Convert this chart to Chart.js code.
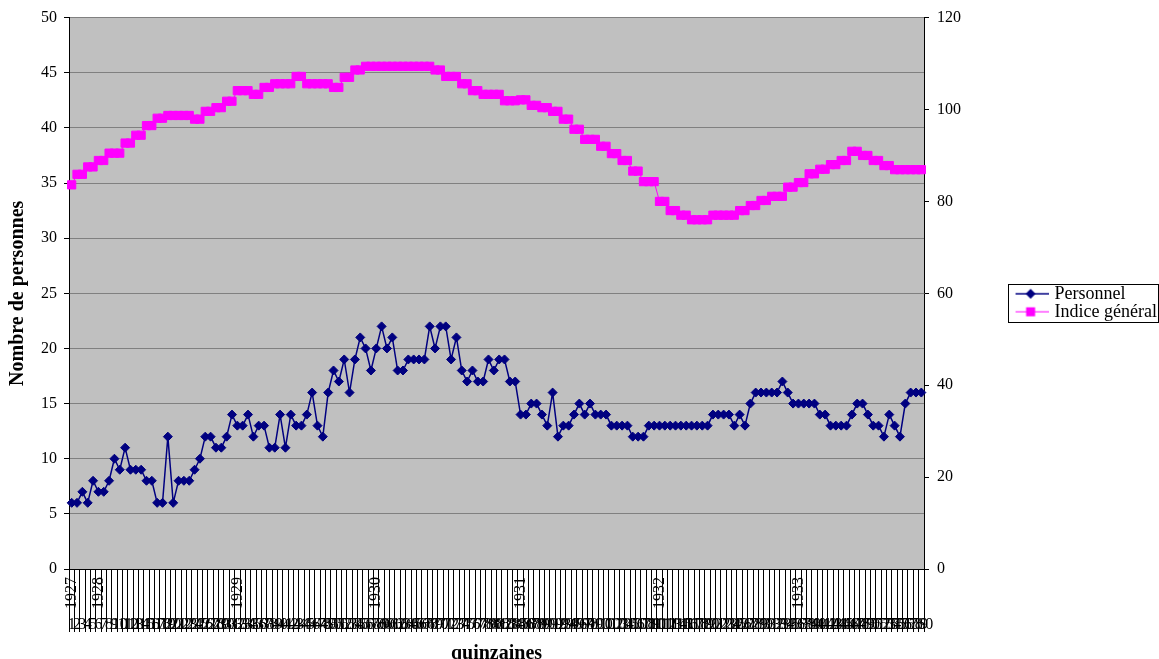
<!DOCTYPE html>
<html>
<head>
<meta charset="utf-8">
<script src="https://cdn.jsdelivr.net/npm/chart.js@4.4.1/dist/chart.umd.min.js"></script>
<style>
  html, body { margin: 0; padding: 0; background: #fff; }
  #wrap { width: 1159px; height: 659px; }
</style>
</head>
<body>
<div id="wrap"><canvas id="chart" width="1159" height="659"></canvas></div>
<script>
// --- DATA ---
// année affichée sur l'axe + quinzaine où elle commence
const yearLabels = ['1927', '1928', '1929', '1930', '1931', '1932', '1933'];
const yearStart = [0, 5, 31, 57, 84, 110, 136];

// Personnel (axe gauche)
const personnel = [
    6, 6, 7, 6, 8, 7, 7, 8, 10, 9,
    11, 9, 9, 9, 8, 8, 6, 6, 12, 6,
    8, 8, 8, 9, 10, 12, 12, 11, 11, 12,
    14, 13, 13, 14, 12, 13, 13, 11, 11, 14,
    11, 14, 13, 13, 14, 16, 13, 12, 16, 18,
    17, 19, 16, 19, 21, 20, 18, 20, 22, 20,
    21, 18, 18, 19, 19, 19, 19, 22, 20, 22,
    22, 19, 21, 18, 17, 18, 17, 17, 19, 18,
    19, 19, 17, 17, 14, 14, 15, 15, 14, 13,
    16, 12, 13, 13, 14, 15, 14, 15, 14, 14,
    14, 13, 13, 13, 13, 12, 12, 12, 13, 13,
    13, 13, 13, 13, 13, 13, 13, 13, 13, 13,
    14, 14, 14, 14, 13, 14, 13, 15, 16, 16,
    16, 16, 16, 17, 16, 15, 15, 15, 15, 15,
    14, 14, 13, 13, 13, 13, 14, 15, 15, 14,
    13, 13, 12, 14, 13, 12, 15, 16, 16, 16
];

// Indice général (axe droit)
const indice = [
    83.6, 85.9, 85.9, 87.5, 87.5, 88.9, 88.9, 90.5, 90.5, 90.5,
    92.7, 92.7, 94.4, 94.4, 96.5, 96.5, 98.1, 98.1, 98.7, 98.7,
    98.7, 98.7, 98.7, 97.9, 97.9, 99.6, 99.6, 100.4, 100.4, 101.8,
    101.8, 104.1, 104.1, 104.1, 103.3, 103.3, 104.8, 104.8, 105.6, 105.6,
    105.6, 105.6, 107.2, 107.2, 105.6, 105.6, 105.6, 105.6, 105.6, 104.8,
    104.8, 107.0, 107.0, 108.6, 108.6, 109.4, 109.4, 109.4, 109.4, 109.4,
    109.4, 109.4, 109.4, 109.4, 109.4, 109.4, 109.4, 109.4, 108.6, 108.6,
    107.2, 107.2, 107.2, 105.6, 105.6, 104.1, 104.1, 103.3, 103.3, 103.3,
    103.3, 101.9, 101.9, 101.9, 102.1, 102.1, 100.9, 100.9, 100.4, 100.4,
    99.6, 99.6, 97.9, 97.9, 95.7, 95.7, 93.5, 93.5, 93.5, 92.0,
    92.0, 90.4, 90.4, 88.9, 88.9, 86.6, 86.6, 84.3, 84.3, 84.3,
    80.0, 80.0, 78.0, 78.0, 77.0, 77.0, 76.0, 76.0, 76.0, 76.0,
    77.0, 77.0, 77.0, 77.0, 77.0, 78.0, 78.0, 79.1, 79.1, 80.2,
    80.2, 81.1, 81.1, 81.1, 83.1, 83.1, 84.1, 84.1, 86.0, 86.0,
    87.0, 87.0, 88.0, 88.0, 88.9, 88.9, 90.9, 90.9, 90.0, 90.0,
    88.9, 88.9, 87.8, 87.8, 86.9, 86.9, 86.9, 86.9, 86.9, 86.9
];

const seriesNames = ['Personnel', 'Indice général'];

// numéros de quinzaine 1..n, et étiquettes d'années sur le second niveau
const quinzaines = personnel.map((v, i) => String(i + 1));
const yearTicks = quinzaines.map(() => '');
yearStart.forEach((pos, k) => { yearTicks[pos] = yearLabels[k]; });

const FONT = 'Liberation Serif, Times New Roman, serif';
const NAVY = '#000080';
const PINK = '#FF00FF';

// mise en page : bord droit de la zone de tracé, légende collée au bord du canevas
const PLOT_RIGHT = 924;
const LEG_SIZE = 18;
const LEG_BOX = 30;
const OVERHANG = 8;   // la légende déborde un peu à droite, comme dans Excel
const measureCtx = document.createElement('canvas').getContext('2d');
measureCtx.font = LEG_SIZE + 'px ' + FONT;
const legTextW = Math.max(...seriesNames.map(t => measureCtx.measureText(t).width));
const legWidth = LEG_BOX + LEG_SIZE / 2 + legTextW + 10;
const rightAxisWidth = 1159 + OVERHANG - legWidth - PLOT_RIGHT;

// petite icône "ligne + marqueur" pour la légende
function legendIcon(color, style) {
    const c = document.createElement('canvas');
    c.width = 36; c.height = 14;
    const g = c.getContext('2d');
    g.strokeStyle = color;
    g.lineWidth = style === 'rectRot' ? 1.5 : 1;
    g.beginPath(); g.moveTo(0, 7); g.lineTo(36, 7); g.stroke();
    g.fillStyle = color;
    g.beginPath();
    if (style === 'rectRot') {
        g.moveTo(13, 7); g.lineTo(18, 2); g.lineTo(23, 7); g.lineTo(18, 12);
    } else {
        g.rect(13.5, 2.5, 9, 9);
    }
    g.closePath(); g.fill();
    return c;
}
const icons = [legendIcon(NAVY, 'rectRot'), legendIcon(PINK, 'rect')];

const plotBackground = {
    id: 'plotBackground',
    beforeDraw(chart) {
        const { ctx, chartArea: a } = chart;
        ctx.save();
        ctx.fillStyle = '#fff';
        ctx.fillRect(0, 0, chart.width, chart.height);
        ctx.fillStyle = '#C0C0C0';
        ctx.fillRect(a.left, a.top, a.right - a.left, a.bottom - a.top);
        ctx.restore();
    }
};

const legendFrame = {
    id: 'legendFrame',
    afterDraw(chart) {
        const lg = chart.legend;
        if (!lg || !lg.legendHitBoxes.length) return;
        const hb = lg.legendHitBoxes;
        const left = Math.round(hb[0].left - 8);
        const top = Math.round(hb[0].top - 1);
        const last = hb[hb.length - 1];
        const bottom = Math.round(last.top + last.height + 1);
        const ctx = chart.ctx;
        ctx.save();
        ctx.strokeStyle = '#000';
        ctx.lineWidth = 1;
        ctx.strokeRect(left + 0.5, top + 0.5, chart.width - left - 1, bottom - top);
        ctx.restore();
    }
};

new Chart(document.getElementById('chart'), {
    type: 'line',
    data: {
        labels: quinzaines,
        datasets: [
            {
                label: seriesNames[0],
                data: personnel,
                yAxisID: 'y',
                borderColor: NAVY,
                backgroundColor: NAVY,
                borderWidth: 1.5,
                pointStyle: 'rectRot',
                pointRadius: 4.5,
                pointBorderWidth: 1,
                tension: 0
            },
            {
                label: seriesNames[1],
                data: indice,
                yAxisID: 'y1',
                borderColor: PINK,
                backgroundColor: PINK,
                borderWidth: 1,
                pointStyle: 'rect',
                pointRadius: 5.8,
                pointBorderWidth: 1,
                tension: 0
            }
        ]
    },
    options: {
        responsive: false,
        animation: false,
        devicePixelRatio: 1,
        events: [],
        layout: { padding: { top: 17, left: 0, right: -OVERHANG, bottom: 0 } },
        plugins: {
            tooltip: { enabled: false },
            legend: {
                position: 'right',
                fullSize: false,
                title: { display: true, text: '', padding: 0, font: { size: 19, lineHeight: 1 } },
                labels: {
                    color: '#000',
                    font: { family: FONT, size: LEG_SIZE },
                    usePointStyle: true,
                    pointStyleWidth: LEG_BOX,
                    padding: 0,
                    generateLabels(chart) {
                        const items = Chart.defaults.plugins.legend.labels.generateLabels(chart);
                        items.forEach((it, i) => { it.pointStyle = icons[i]; });
                        return items;
                    }
                }
            }
        },
        scales: {
            x: {
                position: 'bottom',
                weight: 1,
                offset: true,
                grid: { display: false },
                border: { display: false },
                ticks: {
                    autoSkip: false, minRotation: 0, maxRotation: 0, padding: -2,
                    color: '#000', font: { family: FONT, size: 16 }
                },
                title: {
                    display: true, text: 'quinzaines', color: '#000', padding: { top: 0, bottom: -5 },
                    font: { family: FONT, size: 20, weight: 'bold', lineHeight: 1 }
                },
                afterFit(s) { s.height = 50; }
            },
            xYear: {
                type: 'category',
                labels: yearTicks,
                position: 'bottom',
                weight: 0,
                offset: true,
                grid: { offset: true, drawOnChartArea: false, tickLength: 63, color: '#000', tickColor: '#000' },
                border: { color: '#000' },
                ticks: {
                    autoSkip: false, minRotation: 90, maxRotation: 90, padding: -55,
                    color: '#000', font: { family: FONT, size: 16 }
                },
                afterFit(s) { s.height = 40; }
            },
            y: {
                position: 'left',
                min: 0, max: 50,
                ticks: { stepSize: 5, padding: 7, color: '#000', font: { family: FONT, size: 16 } },
                grid: { color: '#808080', tickColor: '#000', tickLength: 5 },
                border: { color: '#000' },
                title: {
                    display: true, text: 'Nombre de personnes', color: '#000',
                    padding: { top: 6, bottom: 0 },
                    font: { family: FONT, size: 20, weight: 'bold' }
                },
                afterFit(s) { s.width = 69; }
            },
            y1: {
                position: 'right',
                min: 0, max: 120,
                ticks: { stepSize: 20, padding: 8, color: '#000', font: { family: FONT, size: 16 } },
                grid: { drawOnChartArea: false, tickColor: '#000', tickLength: 5 },
                border: { color: '#000' },
                afterFit(s) { s.width = rightAxisWidth; }
            }
        }
    },
    plugins: [plotBackground, legendFrame]
});
</script>
</body>
</html>
